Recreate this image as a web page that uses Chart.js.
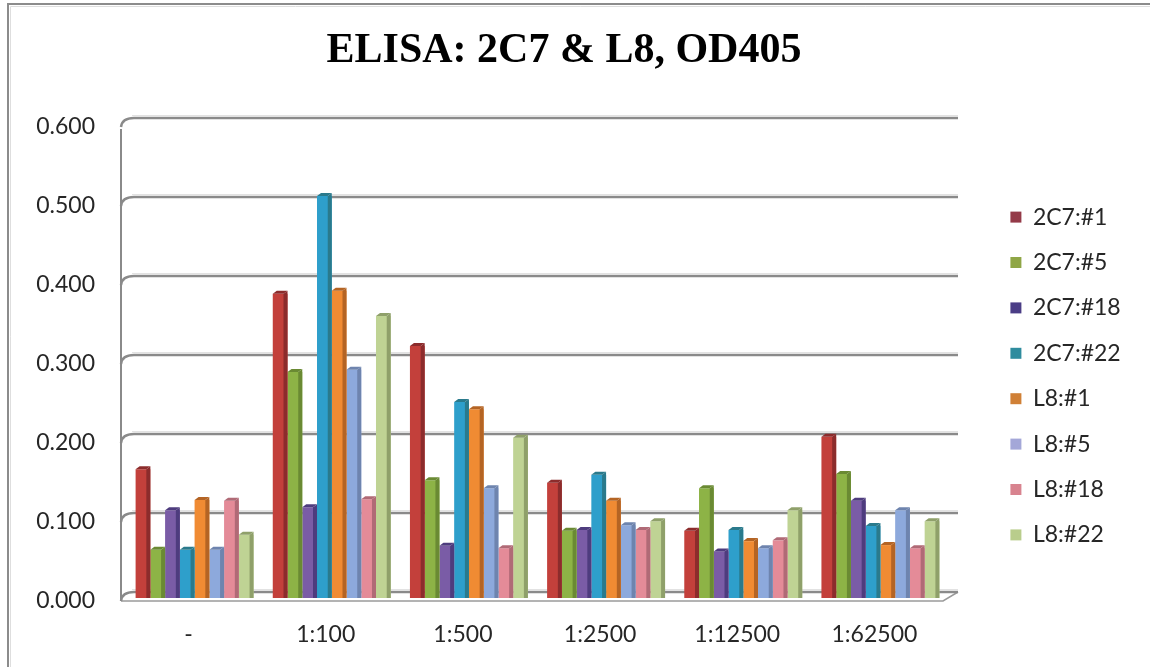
<!DOCTYPE html>
<html>
<head>
<meta charset="utf-8">
<script src="https://cdn.jsdelivr.net/npm/chart.js@4.4.1/dist/chart.umd.min.js"></script>
<style>
  html, body { margin: 0; padding: 0; background: #fff; }
  #wrap { width: 1150px; height: 667px; }
</style>
</head>
<body>
<div id="wrap"><canvas id="c" width="1150" height="667"></canvas></div>
<script>
// Dilutions on the x axis
const categories = ['-', '1:100', '1:500', '1:2500', '1:12500', '1:62500'];

// OD405 readings per clone
const od2C7_1  = [0.163, 0.385, 0.319, 0.146, 0.085, 0.204];
const od2C7_5  = [0.061, 0.286, 0.149, 0.085, 0.139, 0.157];
const od2C7_18 = [0.111, 0.115, 0.066, 0.086, 0.059, 0.123];
const od2C7_22 = [0.061, 0.509, 0.248, 0.156, 0.086, 0.091];
const odL8_1   = [0.124, 0.389, 0.239, 0.123, 0.072, 0.067];
const odL8_5   = [0.061, 0.289, 0.139, 0.092, 0.063, 0.111];
const odL8_18  = [0.123, 0.125, 0.063, 0.086, 0.073, 0.063];
const odL8_22  = [0.080, 0.357, 0.203, 0.097, 0.111, 0.097];

const seriesNames = ['2C7:#1', '2C7:#5', '2C7:#18', '2C7:#22', 'L8:#1', 'L8:#5', 'L8:#18', 'L8:#22'];
const seriesValues = [od2C7_1, od2C7_5, od2C7_18, od2C7_22, odL8_1, odL8_5, odL8_18, odL8_22];

const yTickLabels = ['0.000', '0.100', '0.200', '0.300', '0.400', '0.500', '0.600'];

// Column faces: front, side/top, legend swatch
const frontColors  = ['#C3403B', '#8DB346', '#7A5CA6', '#2E9FCB', '#F08B33', '#8DA9DC', '#E48B98', '#BFD394'];
const sideColors   = ['#8C2C2C', '#6A8A33', '#4E3C7E', '#2A7A8C', '#B46424', '#6E84AE', '#B06A76', '#8FA06A'];
const legendColors = ['#943A48', '#8FA646', '#4B3D86', '#2F8C9E', '#D08036', '#A4A7D8', '#D8838F', '#B9CD8C'];

const tickFont = { family: 'Lato', size: 23 };
const textColor = '#262626';

// Depth offsets of the pseudo-3D walls relative to the bar plane
const BACK_DX = 4, BACK_DY = -6, FRONT_DX = -5, FRONT_DY = 3;
const BOX_DX = 4, BOX_DY = 3;

const frame3d = {
  id: 'frame3d',
  beforeDraw(chart) {
    const ctx = chart.ctx;
    ctx.save();
    ctx.fillStyle = '#fff';
    ctx.fillRect(0, 0, chart.width, chart.height);
    // outer chart border
    ctx.strokeStyle = '#8c8c8c';
    ctx.lineWidth = 2;
    ctx.beginPath();
    ctx.moveTo(8, chart.height);
    ctx.lineTo(8, 4);
    ctx.lineTo(chart.width, 4);
    ctx.stroke();
    ctx.strokeStyle = '#dedede';
    ctx.lineWidth = 1;
    ctx.beginPath();
    ctx.moveTo(10.5, chart.height);
    ctx.lineTo(10.5, 6.5);
    ctx.lineTo(chart.width, 6.5);
    ctx.stroke();
    ctx.restore();
  },
  beforeDatasetsDraw(chart) {
    const ctx = chart.ctx;
    const { left, right, bottom } = chart.chartArea;
    const y = chart.scales.y;
    ctx.save();
    // floor outline
    ctx.strokeStyle = '#9a9a9a';
    ctx.lineWidth = 1.5;
    ctx.beginPath();
    ctx.moveTo(left + FRONT_DX, bottom + FRONT_DY);
    ctx.lineTo(right - 6, bottom + FRONT_DY);
    ctx.lineTo(right + 9, bottom + BACK_DY);
    ctx.stroke();
    // left wall front edge
    const topPix = y.getPixelForValue(0.6);
    ctx.strokeStyle = '#8a8a8a';
    ctx.lineWidth = 2;
    ctx.beginPath();
    ctx.moveTo(left + FRONT_DX, topPix + FRONT_DY + 2);
    ctx.lineTo(left + FRONT_DX, bottom + FRONT_DY);
    ctx.stroke();
    // back wall gridlines with their curved joins to the side wall
    y.ticks.forEach(t => {
      const py = y.getPixelForValue(t.value);
      const by = py + BACK_DY;
      ctx.strokeStyle = '#e2e2e2';
      ctx.lineWidth = 1;
      ctx.beginPath();
      ctx.moveTo(left + BACK_DX + 2, by - 2.5);
      ctx.lineTo(right + 9, by - 2.5);
      ctx.stroke();
      ctx.strokeStyle = '#8a8a8a';
      ctx.lineWidth = 2.5;
      ctx.beginPath();
      ctx.moveTo(left + FRONT_DX, py + FRONT_DY);
      ctx.quadraticCurveTo(left + FRONT_DX + 1, by, left + BACK_DX + 4, by);
      ctx.lineTo(right + 9, by);
      ctx.stroke();
    });
    ctx.restore();
  },
  afterDatasetsDraw(chart) {
    const ctx = chart.ctx;
    ctx.save();
    chart.data.datasets.forEach((ds, i) => {
      const meta = chart.getDatasetMeta(i);
      meta.data.forEach(el => {
        const p = el.getProps(['x', 'y', 'base', 'width'], true);
        const L = p.x - p.width / 2, R = p.x + p.width / 2;
        const T = p.y, B = p.base;
        // side face
        ctx.fillStyle = sideColors[i];
        ctx.beginPath();
        ctx.moveTo(R - BOX_DX, T);
        ctx.lineTo(R, T - BOX_DY);
        ctx.lineTo(R, B);
        ctx.lineTo(R - BOX_DX, B);
        ctx.closePath();
        ctx.fill();
        // top face
        ctx.beginPath();
        ctx.moveTo(L, T);
        ctx.lineTo(L + BOX_DX, T - BOX_DY);
        ctx.lineTo(R, T - BOX_DY);
        ctx.lineTo(R - BOX_DX, T);
        ctx.closePath();
        ctx.fill();
      });
    });
    ctx.restore();
  }
};

const datasets = seriesNames.map((name, i) => ({
  label: name,
  data: seriesValues[i],
  backgroundColor: frontColors[i],
  borderWidth: 0,
  categoryPercentage: 0.86,
  barPercentage: 1.0
}));

new Chart(document.getElementById('c'), {
  type: 'bar',
  data: { labels: categories, datasets },
  plugins: [frame3d],
  options: {
    responsive: false,
    animation: false,
    devicePixelRatio: 1,
    layout: { padding: { left: 0, right: 22, top: 0, bottom: 0 } },
    plugins: {
      title: {
        display: true,
        text: 'ELISA: 2C7 & L8, OD405',
        color: '#000',
        font: { family: 'Liberation Serif', size: 42, weight: 'bold', lineHeight: 1.2 },
        padding: { top: 25.8, bottom: 47.8 }
      },
      legend: {
        position: 'right',
        fullSize: false,
        maxWidth: 140,
        title: { display: true, text: ' ', font: { size: 10, lineHeight: 1.2 }, padding: 9 },
        labels: {
          boxWidth: 11,
          boxHeight: 11,
          padding: 22.4,
          color: textColor,
          font: tickFont,
          generateLabels(chart) {
            const items = Chart.defaults.plugins.legend.labels.generateLabels(chart);
            items.forEach((it, i) => {
              it.fillStyle = legendColors[i];
              it.strokeStyle = legendColors[i];
              it.lineWidth = 0;
            });
            return items;
          }
        }
      },
      tooltip: { enabled: false }
    },
    scales: {
      x: {
        grid: { display: false, drawTicks: false, tickLength: 0 },
        border: { display: false },
        ticks: { padding: 23, labelOffset: -6, color: textColor, font: tickFont, maxRotation: 0 },
        afterFit(s) { s.height = 69; }
      },
      y: {
        min: 0,
        max: 0.6,
        grid: { display: false, drawTicks: false, tickLength: 0 },
        border: { display: false },
        ticks: {
          stepSize: 0.1,
          padding: 31,
          labelOffset: 3,
          color: textColor,
          font: tickFont,
          callback: (v, i) => yTickLabels[i]
        },
        afterFit(s) { s.width = 126; }
      },
      gap: {
        type: 'linear',
        position: 'right',
        display: true,
        grid: { display: false, drawTicks: false },
        border: { display: false },
        ticks: { display: false },
        afterFit(s) { s.width = 39; }
      }
    }
  }
});
</script>
</body>
</html>
